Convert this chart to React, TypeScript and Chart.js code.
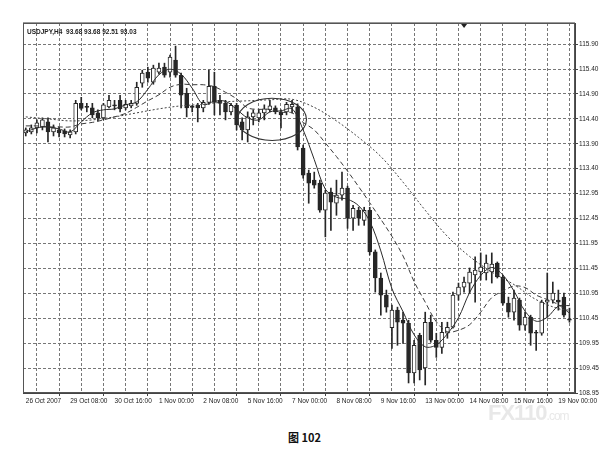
import { useEffect, useRef } from 'react';
import { Chart, registerables } from 'chart.js';
Chart.register(...registerables);

const header = 'USDJPY,H4  93.68 93.68 92.51 93.03';
const caption = '图 102';

const xLabels = ['26 Oct 2007', '29 Oct 08:00', '30 Oct 16:00', '1 Nov 00:00', '2 Nov 08:00', '5 Nov 16:00', '7 Nov 00:00', '8 Nov 08:00', '9 Nov 16:00', '13 Nov 00:00', '14 Nov 08:00', '15 Nov 16:00', '19 Nov 00:00'];
const yTickLabels = ['108.95', '109.45', '109.95', '110.45', '110.95', '111.45', '111.95', '112.45', '112.95', '113.40', '113.90', '114.40', '114.90', '115.40', '115.90'];

const opens = [114.13, 114.15, 114.23, 114.25, 114.35, 114.15, 114.19, 114.17, 114.09, 114.15, 114.72, 114.65, 114.63, 114.53, 114.43, 114.65, 114.68, 114.78, 114.63, 114.67, 114.72, 115.12, 115.34, 115.14, 115.34, 115.44, 115.34, 115.58, 115.28, 114.92, 114.65, 114.68, 114.63, 114.74, 115.06, 114.78, 114.72, 114.55, 114.68, 114.35, 114.19, 114.45, 114.43, 114.53, 114.59, 114.63, 114.55, 114.55, 114.65, 114.65, 113.83, 113.33, 113.19, 113.13, 112.59, 112.95, 112.73, 112.89, 113.03, 112.43, 112.59, 112.39, 112.59, 111.76, 111.24, 110.90, 110.25, 110.60, 110.40, 110.34, 109.35, 110.10, 109.45, 110.36, 110.00, 109.86, 110.14, 110.26, 110.90, 111.06, 111.14, 111.30, 111.36, 111.34, 111.36, 111.54, 111.26, 110.74, 110.56, 110.80, 110.30, 110.46, 110.15, 110.14, 110.76, 110.80, 110.80, 110.86, 110.42];
const highs = [114.23, 114.29, 114.39, 114.43, 114.43, 114.29, 114.25, 114.21, 114.19, 114.78, 114.84, 114.72, 114.72, 114.59, 114.72, 114.88, 114.78, 114.88, 114.78, 114.78, 115.14, 115.38, 115.44, 115.48, 115.52, 115.52, 115.68, 115.86, 115.32, 115.02, 114.68, 114.72, 114.78, 115.38, 115.34, 114.88, 114.78, 114.72, 114.72, 114.43, 114.55, 114.59, 114.59, 114.69, 114.78, 114.67, 114.59, 114.74, 114.78, 114.71, 113.89, 113.39, 113.35, 113.19, 112.99, 113.03, 113.19, 113.35, 113.07, 112.69, 112.65, 112.65, 112.65, 111.80, 111.34, 111.00, 110.70, 110.66, 110.56, 110.40, 110.00, 110.14, 110.56, 110.50, 110.14, 110.36, 110.36, 110.96, 111.14, 111.26, 111.44, 111.66, 111.74, 111.70, 111.74, 111.56, 111.30, 110.86, 111.00, 110.84, 110.56, 110.50, 110.20, 110.80, 111.34, 111.16, 111.00, 110.94, 110.64];
const lows = [114.07, 114.11, 114.13, 114.19, 113.95, 114.07, 114.05, 114.05, 114.03, 114.11, 114.59, 114.55, 114.43, 114.37, 114.39, 114.63, 114.59, 114.55, 114.59, 114.63, 114.68, 115.04, 115.14, 115.10, 115.30, 115.24, 115.24, 115.24, 114.63, 114.45, 114.55, 114.35, 114.55, 114.70, 114.49, 114.49, 114.39, 114.49, 114.19, 113.99, 113.95, 114.29, 114.35, 114.39, 114.55, 114.51, 114.23, 114.49, 114.53, 113.79, 113.23, 112.73, 113.03, 112.55, 112.06, 112.19, 112.49, 112.79, 112.23, 112.19, 112.29, 112.29, 111.70, 110.96, 110.50, 110.56, 109.84, 109.90, 109.94, 109.15, 109.15, 109.21, 109.11, 109.96, 109.66, 109.74, 110.04, 110.24, 110.80, 110.96, 110.94, 110.76, 111.20, 111.20, 111.14, 111.24, 110.70, 110.46, 110.40, 110.20, 110.20, 109.90, 109.80, 110.10, 110.46, 110.74, 110.60, 110.46, 110.36];
const closes = [114.19, 114.23, 114.33, 114.39, 114.15, 114.23, 114.13, 114.11, 114.15, 114.72, 114.62, 114.64, 114.49, 114.43, 114.69, 114.78, 114.67, 114.61, 114.70, 114.72, 115.04, 115.32, 115.22, 115.42, 115.42, 115.28, 115.64, 115.28, 114.88, 114.63, 114.64, 114.63, 114.74, 115.06, 114.74, 114.72, 114.55, 114.68, 114.29, 114.19, 114.45, 114.53, 114.53, 114.61, 114.67, 114.55, 114.49, 114.70, 114.70, 113.85, 113.29, 113.13, 113.09, 112.59, 112.93, 112.75, 112.89, 113.03, 112.43, 112.63, 112.43, 112.59, 111.76, 111.24, 110.90, 110.66, 110.60, 110.36, 110.34, 109.35, 109.90, 109.41, 110.36, 110.00, 109.86, 110.16, 110.26, 110.90, 111.06, 111.16, 111.36, 111.40, 111.46, 111.54, 111.52, 111.26, 110.74, 110.56, 110.84, 110.30, 110.46, 110.14, 110.14, 110.76, 110.80, 110.94, 110.76, 110.50, 110.40];

const maFastBars = [0, 2, 4, 6, 8, 10, 12, 14, 16, 18, 20, 22, 24, 26, 28, 30, 32, 34, 36, 38, 40, 42, 44, 46, 48, 50, 52, 54, 56, 58, 60, 62, 64, 66, 68, 70, 72, 74, 76, 78, 80, 82, 84, 86, 88, 90, 92, 94, 96, 98];
const maFast = [114.15, 114.23, 114.25, 114.21, 114.15, 114.35, 114.53, 114.59, 114.61, 114.69, 114.75, 115.00, 115.29, 115.40, 115.30, 115.02, 114.70, 114.76, 114.76, 114.60, 114.43, 114.39, 114.55, 114.57, 114.61, 114.19, 113.60, 113.01, 112.85, 112.81, 112.68, 112.37, 111.78, 111.03, 110.57, 110.11, 109.87, 109.91, 110.13, 110.45, 110.95, 111.29, 111.45, 111.30, 110.98, 110.58, 110.38, 110.46, 110.68, 110.69];
const maMidBars = maFastBars;
const maMid = [114.27, 114.27, 114.25, 114.25, 114.25, 114.31, 114.34, 114.39, 114.45, 114.52, 114.64, 114.77, 114.89, 115.04, 115.10, 115.09, 115.09, 115.05, 114.94, 114.81, 114.63, 114.60, 114.60, 114.54, 114.53, 114.34, 114.19, 113.93, 113.66, 113.37, 113.06, 112.74, 112.41, 112.07, 111.68, 111.17, 110.76, 110.37, 110.17, 110.20, 110.31, 110.56, 110.85, 110.98, 111.08, 111.05, 110.90, 110.81, 110.71, 110.54];
const maSlowBars = [0, 4, 8, 12, 16, 20, 24, 28, 32, 36, 40, 44, 48, 52, 56, 60, 64, 68, 72, 76, 80, 84, 88, 92, 96, 98];
const maSlow = [114.45, 114.41, 114.37, 114.39, 114.45, 114.53, 114.61, 114.67, 114.70, 114.75, 114.77, 114.79, 114.80, 114.64, 114.37, 114.04, 113.66, 113.15, 112.59, 112.07, 111.67, 111.36, 111.11, 110.81, 110.63, 110.60];

// hand-drawn ellipse annotation (in bar / price units)
const ellipseCenterBar = 44.4;
const ellipseCenterPrice = 114.4;
const ellipseBarRadius = 6.2;
const ellipsePriceRadius = 0.42;
const shiftMarkerBar = 79;
const yMaxPrice = 116.32;

const INK = '#262626';
const GRID = '#777';
const FONT = '"Liberation Sans", Arial, sans-serif';

export default function App() {
  const canvasRef = useRef<HTMLCanvasElement | null>(null);

  useEffect(() => {
    if (!canvasRef.current) return;
    const idx = opens.map((_, i) => i);
    const bodyData = idx.map((i) => ({ x: i, y: [opens[i], closes[i]] }));
    const wickData = idx.map((i) => ({ x: i, y: [lows[i], highs[i]] }));
    const bodyFill = idx.map((i) => (closes[i] >= opens[i] ? '#ffffff' : INK));
    const yMin = parseFloat(yTickLabels[0]);
    const yTop = parseFloat(yTickLabels[yTickLabels.length - 1]);
    const yStep = (yTop - yMin) / (yTickLabels.length - 1);
    const barsPerGrid = 4;
    const barsPerLabel = 8;
    const lastGridBar = (xLabels.length - 1) * barsPerLabel;

    const overlay = {
      id: 'overlay',
      afterDatasetsDraw(chart: any) {
        const { ctx, chartArea: a, scales } = chart;
        const xs = scales.x;
        const ys = scales.y;
        ctx.save();
        const cx = xs.getPixelForValue(ellipseCenterBar);
        const cy = ys.getPixelForValue(ellipseCenterPrice);
        const rx = Math.abs(xs.getPixelForValue(ellipseCenterBar + ellipseBarRadius) - cx);
        const ry = Math.abs(ys.getPixelForValue(ellipseCenterPrice + ellipsePriceRadius) - cy);
        ctx.beginPath();
        ctx.ellipse(cx, cy, rx, ry, 0, 0, Math.PI * 2);
        ctx.strokeStyle = '#333';
        ctx.lineWidth = 1.1;
        ctx.stroke();
        ctx.strokeStyle = '#555';
        ctx.lineWidth = 1;
        ctx.strokeRect(a.left + 0.5, a.top + 0.5, a.width - 1, a.height - 1);
        ctx.strokeStyle = '#999';
        ctx.beginPath();
        ctx.moveTo(a.left, a.top - 0.5);
        ctx.lineTo(a.right, a.top - 0.5);
        ctx.stroke();
        ctx.fillStyle = '#222';
        ctx.font = 'bold 6.5px ' + FONT;
        ctx.textBaseline = 'middle';
        ctx.fillText(header, a.left + 4, a.top + 9);
        const sx = xs.getPixelForValue(shiftMarkerBar);
        ctx.beginPath();
        ctx.moveTo(sx - 3, a.top + 1);
        ctx.lineTo(sx + 3, a.top + 1);
        ctx.lineTo(sx, a.top + 5);
        ctx.closePath();
        ctx.fillStyle = '#222';
        ctx.fill();
        ctx.restore();
      },
    };

    const chart = new Chart(canvasRef.current, {
      type: 'bar',
      data: {
        datasets: [
          {
            type: 'line',
            label: 'MA fast',
            data: maFastBars.map((b, k) => ({ x: b, y: maFast[k] })),
            borderColor: '#2a2a2a',
            borderWidth: 1,
            pointRadius: 0,
            tension: 0.35,
            order: 0,
          } as any,
          {
            type: 'line',
            label: 'MA mid',
            data: maMidBars.map((b, k) => ({ x: b, y: maMid[k] })),
            borderColor: '#3a3a3a',
            borderWidth: 1,
            borderDash: [5, 3],
            pointRadius: 0,
            tension: 0.35,
            order: 0,
          } as any,
          {
            type: 'line',
            label: 'MA slow',
            data: maSlowBars.map((b, k) => ({ x: b, y: maSlow[k] })),
            borderColor: '#444',
            borderWidth: 1,
            borderDash: [2, 2],
            pointRadius: 0,
            tension: 0.35,
            order: 0,
          } as any,
          {
            type: 'bar',
            label: 'body',
            data: bodyData,
            backgroundColor: bodyFill,
            borderColor: INK,
            borderWidth: 1,
            borderSkipped: false,
            barThickness: 4,
            minBarLength: 1,
            grouped: false,
            order: 1,
          } as any,
          {
            type: 'bar',
            label: 'wick',
            data: wickData,
            backgroundColor: INK,
            borderWidth: 0,
            barThickness: 1,
            grouped: false,
            order: 2,
          } as any,
        ],
      },
      options: {
        animation: false,
        responsive: true,
        maintainAspectRatio: false,
        layout: { padding: { left: 23, top: 23, right: 0, bottom: 0 } },
        plugins: { legend: { display: false }, tooltip: { enabled: false } },
        scales: {
          x: {
            type: 'linear',
            min: -0.5,
            max: 99,
            offset: false,
            afterBuildTicks: (s: any) => {
              const t = [];
              for (let v = 0; v <= lastGridBar; v += barsPerGrid) t.push({ value: v });
              s.ticks = t;
            },
            afterFit: (s: any) => {
              s.height = 19;
            },
            grid: {
              color: GRID,
              lineWidth: 1,
              tickLength: 3,
              tickColor: (c: any) => (c.tick && c.tick.value % barsPerLabel === 0 ? '#444' : 'rgba(0,0,0,0)'),
            },
            border: { display: true, color: '#444', dash: [3, 2] },
            ticks: {
              autoSkip: false,
              maxRotation: 0,
              minRotation: 0,
              align: 'start',
              padding: 1,
              color: '#222',
              font: { family: FONT, size: 6.5 },
              callback: (v: any) => (Number(v) % barsPerLabel === 0 ? xLabels[Number(v) / barsPerLabel] : ''),
            },
          } as any,
          y: {
            type: 'linear',
            position: 'right',
            min: yMin,
            max: yMaxPrice,
            afterBuildTicks: (s: any) => {
              s.ticks = yTickLabels.map((_, k) => ({ value: yMin + k * yStep }));
            },
            afterFit: (s: any) => {
              s.width = 34;
            },
            grid: { color: GRID, lineWidth: 1, tickLength: 3, tickColor: '#444' },
            border: { display: true, color: '#444', dash: [3, 2] },
            ticks: {
              padding: 1,
              color: '#222',
              font: { family: FONT, size: 6.5 },
              callback: (_v: any, i: number) => yTickLabels[i],
            },
          } as any,
        },
      },
      plugins: [overlay],
    } as any);
    return () => chart.destroy();
  }, []);

  return (
    <div style={{ position: 'absolute', left: 0, top: 0, width: 609, height: 458, background: '#fff', overflow: 'hidden' }}>
      <div style={{ position: 'absolute', left: 0, top: 0, width: 609, height: 412 }}>
        <canvas ref={canvasRef} />
      </div>
      <div style={{ position: 'absolute', left: 488, top: 400, color: '#e8e8e8', fontFamily: FONT, fontWeight: 'bold', fontSize: 22, letterSpacing: -1 }}>
        FX110<span style={{ fontSize: 12, fontWeight: 'normal' }}>.com</span>
      </div>
      <div style={{ position: 'absolute', left: 0, top: 429, width: 609, textAlign: 'center', fontFamily: '"Noto Sans CJK SC", sans-serif', fontWeight: 'bold', fontSize: 11, color: '#111' }}>
        {caption}
      </div>
    </div>
  );
}
